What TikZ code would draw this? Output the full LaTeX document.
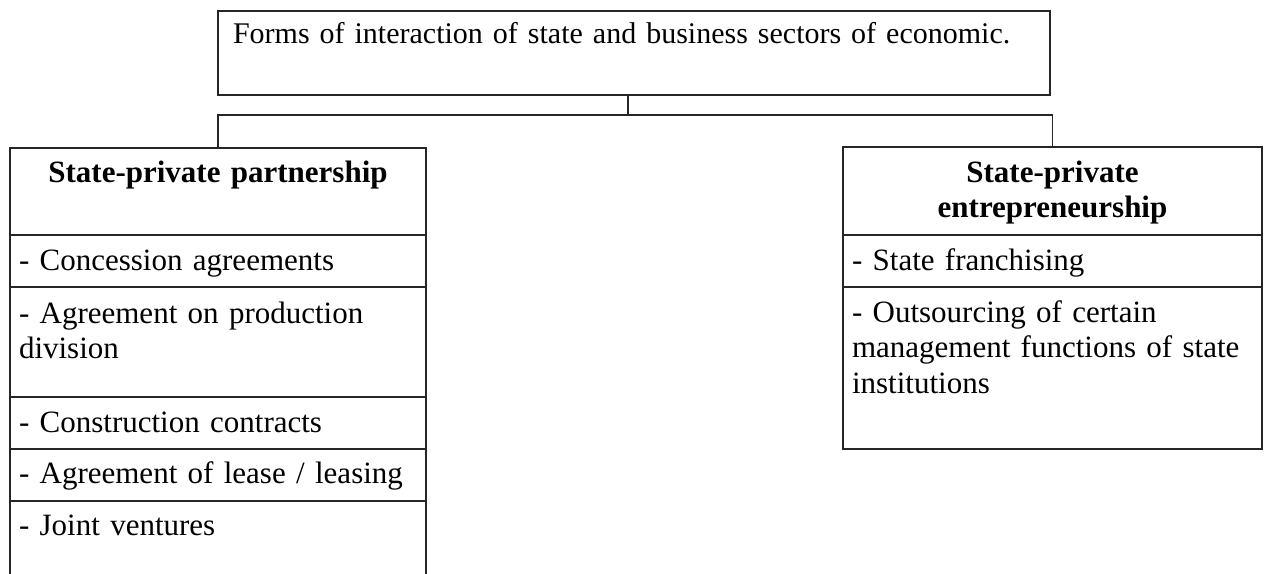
\documentclass[tikz,border=0pt]{standalone}
\usepackage{fontspec}
\setmainfont{Liberation Serif}
\usepackage{tikz}
\usetikzlibrary{positioning,calc}

\begin{document}
\begin{tikzpicture}[
    x=1pt, y=-1pt,
    node distance=0pt,
    cell/.style={rectangle,draw=black!85,line width=1.6pt,inner xsep=9pt,inner ysep=0pt,outer sep=0pt,align=left,font=\fontsize{31}{35.5}\selectfont},
    lcell/.style={cell,text width=398pt},
    rcell/.style={cell,text width=401pt},
    head/.style={align=center,font=\fontsize{31}{35.5}\selectfont\bfseries},
    link/.style={draw=black!85,line width=1.6pt}]
  \useasboundingbox (0,0) rectangle (1265,573);
  \node[cell,anchor=north west,inner xsep=15pt,text width=802pt,text height=32pt,text depth=52pt,font=\fontsize{30}{35.5}\selectfont] (top) at (218,11) {Forms of interaction of state and business sectors of economic.};
  % left column
  \node[lcell,head,anchor=north west,text height=34pt,text depth=53pt] (lhead) at (10,148) {State-private partnership};
  \node[lcell,below=of lhead,text height=35pt,text depth=17pt] (concession) {- Concession agreements};
  \node[lcell,below=of concession,text height=36pt,text depth=74pt] (division) {- Agreement on production\\division};
  \node[lcell,below=of division,text height=35pt,text depth=17pt] (construction) {- Construction contracts};
  \node[lcell,below=of construction,text height=34pt,text depth=18pt] (lease) {- Agreement of lease / leasing};
  \node[lcell,below=of lease,text height=34pt,text depth=65pt] (joint) {- Joint ventures};
  % right column
  \node[rcell,head,anchor=north west,text height=35pt,text depth=53pt] (rhead) at (843,147) {State-private\\entrepreneurship};
  \node[rcell,below=of rhead,text height=35pt,text depth=17pt] (franchise) {- State franchising};
  \node[rcell,below=of franchise,text height=35pt,text depth=127pt] (outsourcing) {- Outsourcing of certain\\management functions of state\\institutions};
  \draw[link] ($(top.south)+(-6,0)$) -- ++(0,20) coordinate (fork);
  \draw[link] (fork) -| (lhead.north);
  \draw[link] (fork) -| (rhead.north);
\end{tikzpicture}
\end{document}
